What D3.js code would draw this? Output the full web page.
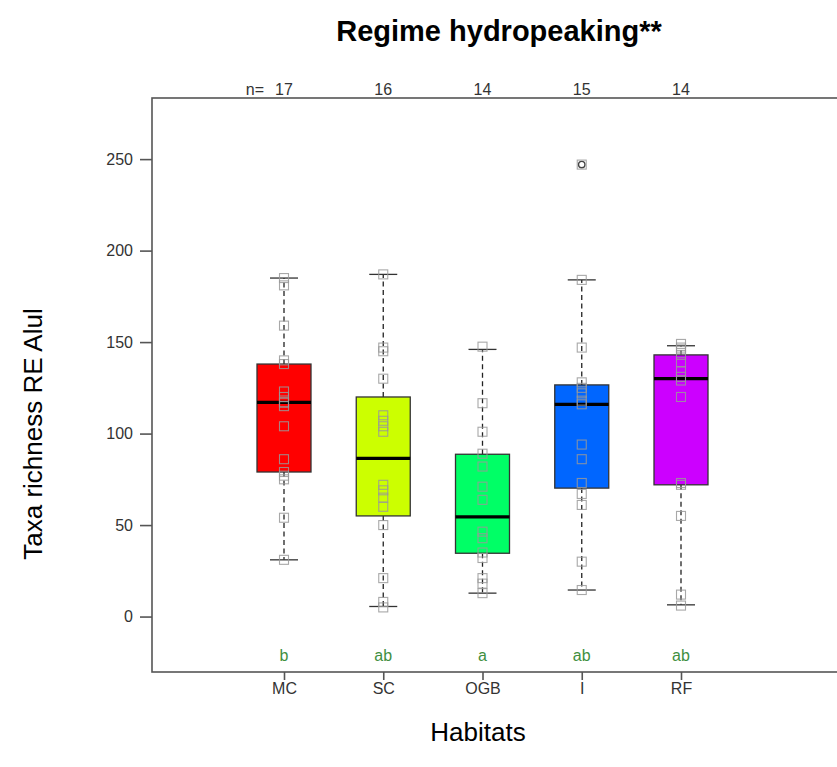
<!DOCTYPE html>
<html>
<head>
<meta charset="utf-8">
<script src="https://cdn.jsdelivr.net/npm/d3@7"></script>
<style>
  body { margin: 0; background: #fff; }
  svg { display: block; font-family: "Liberation Sans", Arial, sans-serif; }
</style>
</head>
<body>
<svg id="chart" width="837" height="767"></svg>
<script>
// ---- data ----
const categories = ["MC", "SC", "OGB", "I", "RF"];
const nCounts = [17, 16, 14, 15, 14];
const letters = ["b", "ab", "a", "ab", "ab"];
const colors = ["#FF0000", "#CCFF00", "#00FF66", "#0066FF", "#CC00FF"];
const whiskerLow = [31, 5.5, 12.8, 14.5, 6.4];
const q1 = [79, 55, 34.6, 70.2, 72];
const medians = [117, 86.5, 54.5, 116, 130];
const q3 = [138, 120, 88.7, 126.6, 143];
const whiskerHigh = [185, 187, 146, 184, 148];
const outliers = [[], [], [], [247], []];
const pointsMC = [31, 54, 75, 77, 79, 86, 104, 115, 117, 117, 120, 123, 138, 140, 159, 181, 185];
const pointsSC = [5, 8, 21, 50, 60, 65, 69, 72, 101, 104, 107, 110, 130, 145, 147, 187];
const pointsOGB = [12.8, 18, 21, 32, 35, 42.8, 46.4, 63.8, 71, 82, 89, 101, 116.6, 147.5];
const pointsI = [14.5, 30, 61, 67, 73, 86, 94, 116, 118, 122, 125, 128, 147, 184, 247];
const pointsRF = [6, 12, 55, 72, 73, 120, 129, 131, 134, 139, 143, 146, 147, 149];
const points = [pointsMC, pointsSC, pointsOGB, pointsI, pointsRF];
const yTicks = [0, 50, 100, 150, 200, 250];

// ---- layout ----
const svg = d3.select("#chart");
const plot = { left: 152, right: 905, top: 98, bottom: 672 };

const y = d3.scaleLinear().domain([-30.3, 283.4]).range([plot.bottom, plot.top]);
const x = d3.scalePoint().domain(categories).range([284, 681]);
const boxW = 54, capW = 28, sq = 9;

categories.forEach((c, i) => {
  const cx = x(c);
  const g = svg.append("g");
  [[q3[i], whiskerHigh[i]], [q1[i], whiskerLow[i]]].forEach(([a, b]) => {
    g.append("line").attr("x1", cx).attr("x2", cx)
      .attr("y1", y(a)).attr("y2", y(b))
      .attr("stroke", "#222").attr("stroke-width", 1.3).attr("stroke-dasharray", "5,3.5");
  });
  [whiskerHigh[i], whiskerLow[i]].forEach(v => {
    g.append("line").attr("x1", cx - capW / 2).attr("x2", cx + capW / 2)
      .attr("y1", y(v)).attr("y2", y(v))
      .attr("stroke", "#333").attr("stroke-width", 1.3);
  });
  g.append("rect").attr("x", cx - boxW / 2).attr("width", boxW)
    .attr("y", y(q3[i])).attr("height", y(q1[i]) - y(q3[i]))
    .attr("fill", colors[i]).attr("stroke", "#333").attr("stroke-width", 1.3);
  g.append("line").attr("x1", cx - boxW / 2).attr("x2", cx + boxW / 2)
    .attr("y1", y(medians[i])).attr("y2", y(medians[i]))
    .attr("stroke", "#000").attr("stroke-width", 3.2);
  outliers[i].forEach(v => {
    g.append("circle").attr("cx", cx).attr("cy", y(v)).attr("r", 3.2)
      .attr("fill", "none").attr("stroke", "#444").attr("stroke-width", 1.4);
  });
  g.selectAll("rect.pt").data(points[i]).enter().append("rect")
    .attr("class", "pt")
    .attr("x", cx - sq / 2).attr("width", sq)
    .attr("y", d => y(d) - sq / 2).attr("height", sq)
    .attr("fill", "none").attr("stroke", "#999").attr("stroke-width", 1.1)
    .attr("opacity", 0.85);
  svg.append("text").attr("x", cx).attr("y", 661)
    .attr("text-anchor", "middle").attr("font-size", 16)
    .attr("fill", "#3f8f3f").text(letters[i]);
  svg.append("text").attr("x", cx).attr("y", 95)
    .attr("text-anchor", "middle").attr("font-size", 16)
    .attr("fill", "#333").text(nCounts[i]);
});
svg.append("text").attr("x", x(categories[0]) - 20).attr("y", 95)
  .attr("text-anchor", "end").attr("font-size", 16).attr("fill", "#333").text("n=");

// frame
svg.append("rect").attr("x", plot.left).attr("y", plot.top)
  .attr("width", plot.right - plot.left).attr("height", plot.bottom - plot.top)
  .attr("fill", "none").attr("stroke", "#555").attr("stroke-width", 1.6);

// y axis
const yAxis = d3.axisLeft(y).tickValues(yTicks).tickSize(12).tickPadding(7);
const ya = svg.append("g").attr("transform", `translate(${plot.left},0)`).call(yAxis);
ya.select(".domain").remove();
ya.selectAll("line").attr("stroke", "#555").attr("stroke-width", 1.6);
ya.selectAll("text").attr("font-size", 16).attr("fill", "#333")
  .attr("font-family", "Liberation Sans, Arial, sans-serif");

// x axis
const xAxis = d3.axisBottom(x).tickSize(8).tickPadding(3);
const xa = svg.append("g").attr("transform", `translate(0,${plot.bottom})`).call(xAxis);
xa.select(".domain").remove();
xa.selectAll("line").attr("stroke", "#555").attr("stroke-width", 1.6);
xa.selectAll("text").attr("font-size", 16).attr("fill", "#333")
  .attr("font-family", "Liberation Sans, Arial, sans-serif");

// titles
svg.append("text").attr("x", 499).attr("y", 41).attr("text-anchor", "middle")
  .attr("font-size", 29).attr("font-weight", "bold").attr("fill", "#000")
  .text("Regime hydropeaking**");
svg.append("text").attr("x", 478).attr("y", 741).attr("text-anchor", "middle")
  .attr("font-size", 26).attr("fill", "#000").text("Habitats");
svg.append("text").attr("transform", "translate(42,434) rotate(-90)")
  .attr("text-anchor", "middle").attr("font-size", 26).attr("fill", "#000")
  .text("Taxa richness RE Alul");
</script>
</body>
</html>
